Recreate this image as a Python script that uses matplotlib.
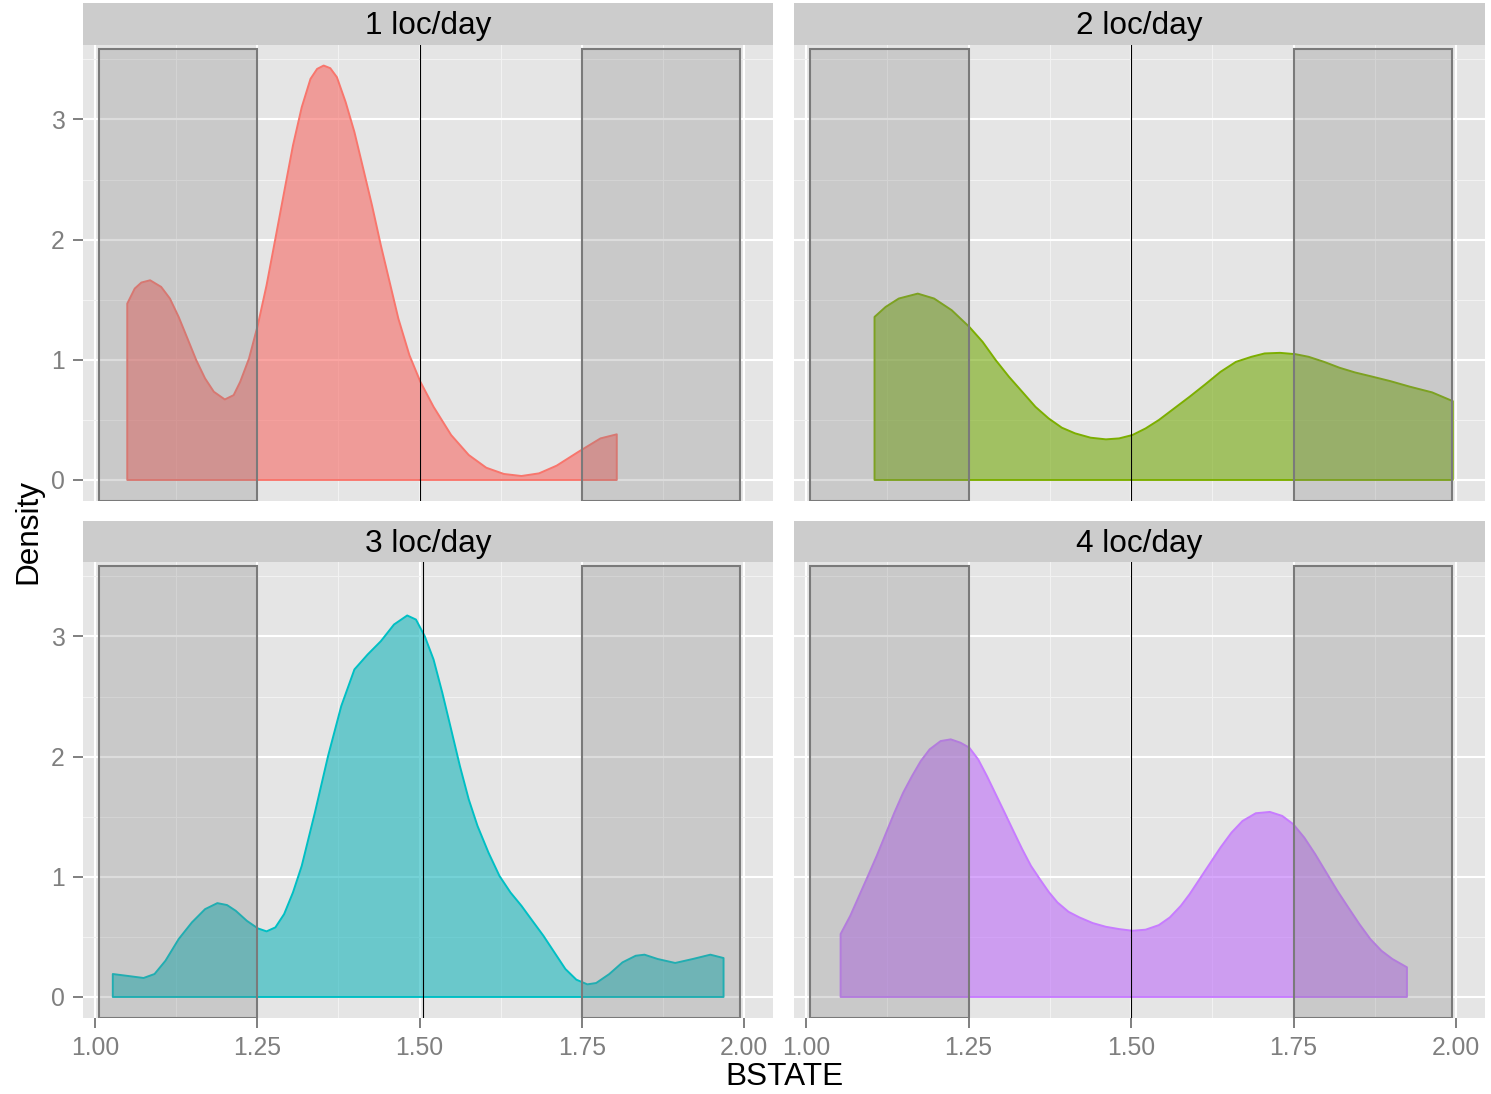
import matplotlib
matplotlib.use("Agg")
import matplotlib.pyplot as plt
from matplotlib.patches import Rectangle, Polygon
from matplotlib.ticker import FixedLocator
from matplotlib.colors import to_rgba

plt.rcParams['font.family'] = ['Liberation Sans', 'DejaVu Sans']

# ---------------- data ----------------
panel_titles = ["1 loc/day", "2 loc/day", "3 loc/day", "4 loc/day"]
line_colors = ["#F8766D", "#7CAE00", "#00BFC4", "#C77CFF"]
fill_colors = ["#F76A65", "#74A90B", "#18B5BB", "#BD6DF9"]

x_loc1 = [1.0497, 1.0612, 1.0714, 1.0849, 1.1019, 1.1154, 1.1289, 1.1425, 1.1560, 1.1696,
          1.1831, 1.2000, 1.2136, 1.2237, 1.2373, 1.2508, 1.2643, 1.2779, 1.2914, 1.3050,
          1.3185, 1.3320, 1.3422, 1.3523, 1.3625, 1.3727, 1.3862, 1.3997, 1.4133, 1.4268,
          1.4404, 1.4539, 1.4674, 1.4844, 1.5013, 1.5216, 1.5487, 1.5758, 1.6028, 1.6299,
          1.6570, 1.6841, 1.7112, 1.7450, 1.7788, 1.8039]
y_loc1 = [1.468, 1.593, 1.643, 1.662, 1.607, 1.510, 1.357, 1.177, 0.997, 0.845,
          0.734, 0.670, 0.706, 0.817, 1.011, 1.288, 1.620, 2.008, 2.396, 2.784,
          3.102, 3.338, 3.421, 3.449, 3.427, 3.352, 3.144, 2.895, 2.590, 2.285,
          1.953, 1.648, 1.343, 1.039, 0.817, 0.609, 0.374, 0.208, 0.102, 0.050,
          0.033, 0.055, 0.119, 0.235, 0.346, 0.380]

x_loc2 = [1.1054, 1.1224, 1.1427, 1.1719, 1.1970, 1.2241, 1.2512, 1.2716, 1.2919, 1.3122,
          1.3326, 1.3529, 1.3733, 1.3936, 1.4139, 1.4377, 1.4614, 1.4817, 1.5021, 1.5224,
          1.5428, 1.5665, 1.5902, 1.6140, 1.6377, 1.6614, 1.6852, 1.7055, 1.7292, 1.7530,
          1.7733, 1.7970, 1.8208, 1.8445, 1.8682, 1.8987, 1.9292, 1.9632, 1.9950]
y_loc2 = [1.357, 1.440, 1.510, 1.551, 1.510, 1.413, 1.274, 1.150, 0.997, 0.859,
          0.734, 0.609, 0.512, 0.435, 0.388, 0.352, 0.338, 0.346, 0.374, 0.429,
          0.499, 0.596, 0.693, 0.795, 0.900, 0.983, 1.025, 1.053, 1.058, 1.047,
          1.025, 0.983, 0.934, 0.895, 0.864, 0.823, 0.776, 0.729, 0.656]

x_loc3 = [1.0274, 1.0477, 1.0748, 1.0917, 1.1086, 1.1289, 1.1492, 1.1696, 1.1885, 1.2034,
          1.2169, 1.2339, 1.2508, 1.2643, 1.2779, 1.2914, 1.3050, 1.3185, 1.3388, 1.3591,
          1.3794, 1.3997, 1.4200, 1.4404, 1.4607, 1.4810, 1.4945, 1.5080, 1.5216, 1.5351,
          1.5487, 1.5622, 1.5758, 1.5893, 1.6062, 1.6231, 1.6401, 1.6570, 1.6739, 1.6908,
          1.7078, 1.7247, 1.7416, 1.7585, 1.7721, 1.7924, 1.8127, 1.8330, 1.8466, 1.8669,
          1.8939, 1.9210, 1.9481, 1.9684]
y_loc3 = [0.191, 0.177, 0.158, 0.191, 0.302, 0.482, 0.620, 0.731, 0.781, 0.765,
          0.717, 0.634, 0.571, 0.546, 0.579, 0.690, 0.870, 1.091, 1.535, 2.006,
          2.421, 2.726, 2.850, 2.961, 3.100, 3.175, 3.141, 3.003, 2.809, 2.532,
          2.227, 1.922, 1.645, 1.424, 1.202, 1.008, 0.870, 0.759, 0.634, 0.510,
          0.371, 0.233, 0.144, 0.105, 0.116, 0.191, 0.288, 0.343, 0.352, 0.316,
          0.283, 0.316, 0.352, 0.324]

x_loc4 = [1.0532, 1.0681, 1.0817, 1.0953, 1.1088, 1.1224, 1.1360, 1.1495, 1.1631, 1.1766,
          1.1902, 1.2071, 1.2227, 1.2377, 1.2512, 1.2648, 1.2783, 1.2919, 1.3055, 1.3190,
          1.3326, 1.3461, 1.3597, 1.3733, 1.3868, 1.4038, 1.4207, 1.4411, 1.4614, 1.4817,
          1.5021, 1.5224, 1.5428, 1.5597, 1.5767, 1.5902, 1.6038, 1.6207, 1.6377, 1.6546,
          1.6716, 1.6919, 1.7136, 1.7326, 1.7496, 1.7665, 1.7835, 1.8004, 1.8174, 1.8343,
          1.8513, 1.8682, 1.8852, 1.9021, 1.9245]
y_loc4 = [0.524, 0.676, 0.842, 1.008, 1.175, 1.355, 1.535, 1.701, 1.839, 1.964,
          2.061, 2.130, 2.144, 2.116, 2.075, 1.978, 1.839, 1.687, 1.535, 1.382,
          1.230, 1.091, 0.981, 0.875, 0.787, 0.709, 0.662, 0.615, 0.584, 0.565,
          0.551, 0.560, 0.598, 0.662, 0.759, 0.856, 0.967, 1.105, 1.244, 1.368,
          1.465, 1.529, 1.540, 1.507, 1.438, 1.327, 1.188, 1.036, 0.884, 0.745,
          0.607, 0.482, 0.385, 0.316, 0.247]

density_x = [x_loc1, x_loc2, x_loc3, x_loc4]
density_y = [y_loc1, y_loc2, y_loc3, y_loc4]

band_low = (1.006, 1.25)
band_high = (1.75, 1.994)
band_y = (-0.175, 3.59)
vline_x = [1.5, 1.5, 1.506, 1.5]

x_ticks = [1.00, 1.25, 1.50, 1.75, 2.00]
x_ticklabels = ["1.00", "1.25", "1.50", "1.75", "2.00"]
x_minor = [1.125, 1.375, 1.625, 1.875]
y_ticks = [0, 1, 2, 3]
y_ticklabels = ["0", "1", "2", "3"]
y_minor = [0.5, 1.5, 2.5, 3.5]

xlim = (0.9815, 2.0446)
ylim = (-0.175, 3.62)

# ---------------- figure ----------------
W, H = 1491, 1094
fig = plt.figure(figsize=(W / 100, H / 100), dpi=100)
fig.patch.set_facecolor("white")

def frac_box(x0, x1, y0, y1):
    return [x0 / W, 1 - y1 / H, (x1 - x0) / W, (y1 - y0) / H]

cols = [(83, 773), (794, 1485)]
rows = [((3, 45), (45, 501)), ((521, 562), (562, 1018))]

tick_color = "#7F7F7F"
for i in range(4):
    r, c = divmod(i, 2)
    (sx0, sx1) = cols[c]
    (st, sb), (pt, pb) = rows[r]
    ax = fig.add_axes(frac_box(sx0, sx1, pt, pb))
    ax.set_facecolor("#E5E5E5")
    for s in ax.spines.values():
        s.set_visible(False)
    ax.set_xlim(*xlim)
    ax.set_ylim(*ylim)
    ax.xaxis.set_major_locator(FixedLocator(x_ticks))
    ax.xaxis.set_minor_locator(FixedLocator(x_minor))
    ax.yaxis.set_major_locator(FixedLocator(y_ticks))
    ax.yaxis.set_minor_locator(FixedLocator(y_minor))
    ax.set_axisbelow(True)
    ax.grid(which="major", color="white", linewidth=1.5)
    ax.grid(which="minor", color="#F2F2F2", linewidth=0.8)
    ax.tick_params(which="minor", length=0)
    ax.tick_params(which="major", length=7, width=1.4, color=tick_color,
                   labelcolor=tick_color, labelsize=17.8)
    ax.tick_params(axis="y", pad=6)
    ax.tick_params(axis="x", pad=6)
    if r == 1:
        ax.set_xticklabels(x_ticklabels)
    else:
        ax.tick_params(axis="x", length=0, labelbottom=False)
    if c == 0:
        ax.set_yticklabels(y_ticklabels)
    else:
        ax.tick_params(axis="y", length=0, labelleft=False)

    xs = density_x[i]
    ys = density_y[i]
    px = [xs[0]] + list(xs) + [xs[-1]]
    py = [0.0] + list(ys) + [0.0]
    poly = Polygon(list(zip(px, py)), closed=True,
                   facecolor=to_rgba(fill_colors[i], 0.6),
                   edgecolor=to_rgba(line_colors[i], 1.0),
                   linewidth=1.4, joinstyle="round", zorder=3)
    ax.add_patch(poly)

    for (bx0, bx1) in (band_low, band_high):
        ax.add_patch(Rectangle((bx0, band_y[0]), bx1 - bx0, band_y[1] - band_y[0],
                               facecolor=(0.5, 0.5, 0.5, 0.27), edgecolor="#7A7A7A",
                               linewidth=1.5, zorder=4))
    ax.axvline(vline_x[i], color="black", linewidth=0.8, zorder=5)

    sax = fig.add_axes(frac_box(sx0, sx1, st, sb))
    sax.set_facecolor("#CCCCCC")
    sax.set_xticks([])
    sax.set_yticks([])
    for s in sax.spines.values():
        s.set_visible(False)
    sax.text(0.5, 0.45, panel_titles[i], ha="center", va="center",
             fontsize=22.7, color="black", transform=sax.transAxes)

fig.text(784 / W, 1 - 1077 / H, "BSTATE", ha="center", va="center", fontsize=22.7)
fig.text(28 / W, 1 - 532 / H, "Density", ha="center", va="center", fontsize=22.7,
         rotation=90)

fig.savefig("out.png", dpi=100)
